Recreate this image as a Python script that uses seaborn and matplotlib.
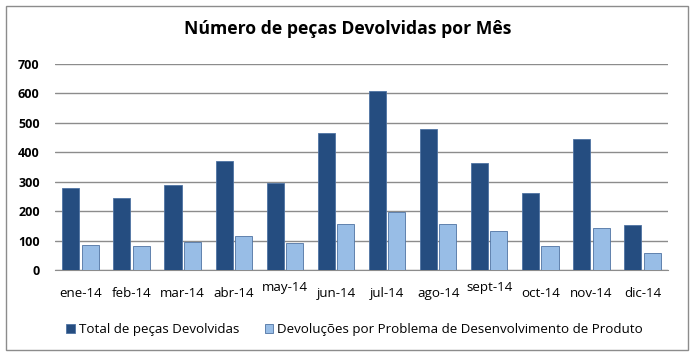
import pandas as pd
import matplotlib
matplotlib.use("Agg")
import matplotlib.pyplot as plt
import seaborn as sns
from matplotlib.patches import Rectangle

months = ["ene-14", "feb-14", "mar-14", "abr-14", "may-14", "jun-14",
          "jul-14", "ago-14", "sept-14", "oct-14", "nov-14", "dic-14"]
total_devolvidas = [277, 245, 290, 370, 296, 464, 609, 478, 365, 263, 444, 154]
devol_produto = [86, 81, 94, 114, 92, 157, 198, 157, 131, 81, 143, 58]
series_names = ["Total de peças Devolvidas",
                "Devoluções por Problema de Desenvolvimento de Produto"]
raised_labels = ["may-14", "sept-14"]

df = pd.DataFrame({
    "mes": months * 2,
    "valor": total_devolvidas + devol_produto,
    "serie": [series_names[0]] * len(months) + [series_names[1]] * len(months),
})

sns.set_style("white")
plt.rcParams["font.family"] = ["Open Sans", "DejaVu Sans"]
plt.rcParams["text.color"] = "black"
plt.rcParams["xtick.color"] = "black"
plt.rcParams["ytick.color"] = "black"

fig = plt.figure(figsize=(6.97, 3.58), dpi=100)
ax = fig.add_axes([0.0789, 0.246, 0.8795, 0.575])

palette = {series_names[0]: "#254d80", series_names[1]: "#98bde6"}
sns.barplot(data=df, x="mes", y="valor", hue="serie", palette=palette,
            width=0.76, gap=0.12, ax=ax, saturation=1,
            edgecolor="#4f73a3", linewidth=0.6, zorder=3)

ax.set_ylim(0, 700)
ax.set_xlim(-0.5, 11.5)
ax.set_yticks(range(0, 701, 100))
ax.yaxis.grid(True, color="#8c8c8c", linewidth=1, zorder=0)
ax.set_axisbelow(True)
for side in ["left", "right", "top"]:
    ax.spines[side].set_visible(False)
ax.spines["bottom"].set_color("#8c8c8c")
ax.set_xlabel("")
ax.set_ylabel("")
ax.tick_params(axis="y", labelsize=9, pad=11, length=0)
ax.tick_params(axis="x", labelsize=9.6, pad=12, length=0)
for lbl in ax.get_yticklabels():
    lbl.set_fontweight("bold")

# two labels sit higher than the rest in the original
for tick, name in zip(ax.xaxis.get_major_ticks(), months):
    if name in raised_labels:
        tick.set_pad(8)

ax.set_title("Número de peças Devolvidas por Mês", fontsize=12.7,
             fontweight="bold", pad=22, x=0.478)

leg = ax.legend(loc="upper center", bbox_to_anchor=(0.489, -0.2), ncol=2,
                frameon=False, fontsize=9.6, handlelength=0.65, handleheight=0.65,
                handletextpad=0.3, columnspacing=1.9)

fig.patches.append(Rectangle((0.009, 0.022), 0.978, 0.962, transform=fig.transFigure,
                             fill=False, edgecolor="#8c8c8c", linewidth=1))

fig.savefig("out.png", dpi=100)
